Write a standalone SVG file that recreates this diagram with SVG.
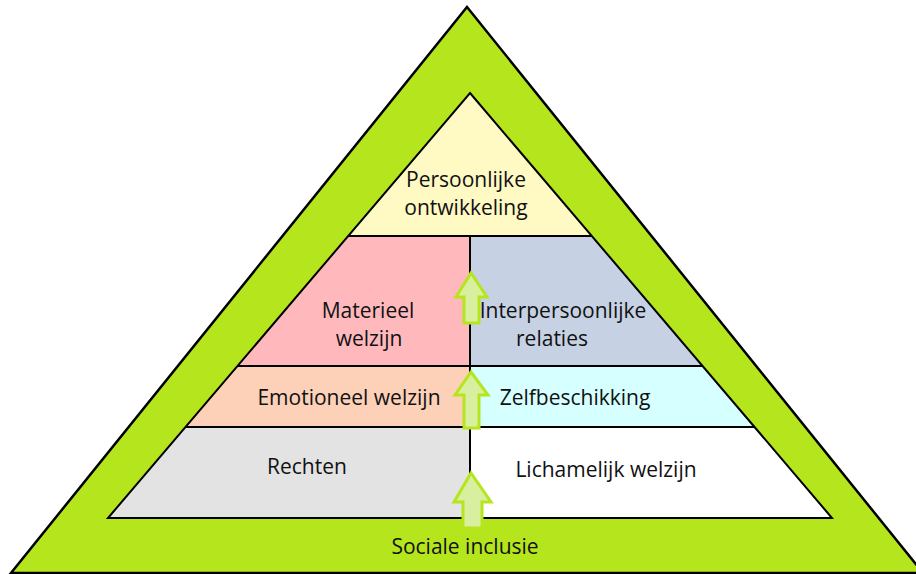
<svg xmlns="http://www.w3.org/2000/svg" width="916" height="574" viewBox="0 0 916 574">
<style>
.t{font-family:"Open Sans","Liberation Sans",sans-serif;font-size:21px;fill:#111;text-anchor:middle}
.ln{stroke:#000;stroke-width:2;fill:none}
.ar{fill:#d9efa0;stroke:#b5e61d;stroke-width:3;stroke-linejoin:miter}
</style>
<rect width="916" height="574" fill="#fff"/>
<g id="outer">
<polygon points="467,7 923,573 11,573" fill="#b5e61d" stroke="#000" stroke-width="2.5"/>
<text class="t" x="465" y="554">Sociale inclusie</text>
</g>
<g id="persoonlijke-ontwikkeling">
<polygon points="470,93 591.8,236 348.2,236" fill="#fff9c4"/>
<text class="t" x="466" y="187">Persoonlijke</text>
<text class="t" x="466" y="215">ontwikkeling</text>
</g>
<g id="materieel-welzijn">
<polygon points="348.2,236 470,236 470,366 237.5,366" fill="#ffb9bd"/>
<text class="t" x="368" y="318">Materieel</text>
<text class="t" x="369" y="346">welzijn</text>
</g>
<g id="interpersoonlijke-relaties">
<polygon points="470,236 591.8,236 702.5,366 470,366" fill="#c6d1e3"/>
<text class="t" x="563" y="318">Interpersoonlijke</text>
<text class="t" x="552" y="346">relaties</text>
</g>
<g id="emotioneel-welzijn">
<polygon points="237.5,366 470,366 470,427 185.5,427" fill="#fdd0b8"/>
<text class="t" x="349" y="405">Emotioneel welzijn</text>
</g>
<g id="zelfbeschikking">
<polygon points="470,366 702.5,366 754.5,427 470,427" fill="#d6ffff"/>
<text class="t" x="575" y="405">Zelfbeschikking</text>
</g>
<g id="rechten">
<polygon points="185.5,427 470,427 470,518 108,518" fill="#e3e3e3"/>
<text class="t" x="307" y="474">Rechten</text>
</g>
<g id="lichamelijk-welzijn">
<polygon points="470,427 754.5,427 832,518 470,518" fill="#fff"/>
<text class="t" x="606" y="477">Lichamelijk welzijn</text>
</g>
<g id="lines">
<polygon class="ln" points="470,93 832,518 108,518"/>
<line class="ln" x1="348.2" y1="236" x2="591.8" y2="236"/>
<line class="ln" x1="237.5" y1="366" x2="702.5" y2="366"/>
<line class="ln" x1="185.5" y1="427" x2="754.5" y2="427"/>
<line class="ln" x1="470" y1="236" x2="470" y2="518"/>
</g>
<g id="connectors">
<polygon class="ar" points="471,273 487,297 479,297 479,323 464,323 464,297 456,297"/>
<polygon class="ar" points="471,372 488,395 479,395 479,428 464,428 464,395 455,395"/>
<polygon class="ar" points="471,473 491,502 482,502 482,528 463,528 463,502 454,502"/>
</g>
</svg>
